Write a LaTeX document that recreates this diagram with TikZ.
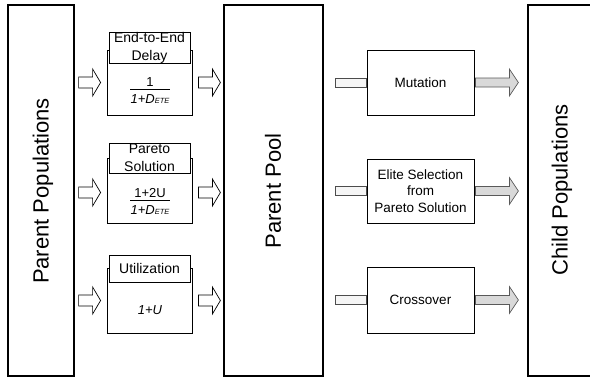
\documentclass[tikz,border=0pt]{standalone}
\usepackage{fontspec}
\setmainfont{Liberation Sans}
\usetikzlibrary{calc}
\tikzset{
 bigbox/.style={draw, line width=1.2pt, inner sep=0pt},
 bigtext/.style={font=\fontsize{22}{26}\selectfont, rotate=90, inner sep=0pt},
 fitbox/.style={draw, line width=0.8pt, minimum width=85pt, minimum height=65pt, inner sep=0pt},
 tabbox/.style={draw, line width=0.7pt, fill=white, minimum width=81pt, inner sep=0pt, align=center, font=\fontsize{14}{18}\selectfont},
 opbox/.style={draw, line width=0.8pt, minimum width=107pt, inner sep=0pt, align=center, font=\fontsize{13.5}{16.5}\selectfont},
 fractext/.style={font=\fontsize{13}{15}\selectfont, inner sep=0pt},
 fracbar/.style={line width=0.7pt},
 openarrow/.style={draw, line width=0.7pt, fill=white},
 greyarrow/.style={draw=gray!70!black, line width=0.7pt, fill=gray!30},
 stubbar/.style={draw=gray!60!black, line width=0.7pt, fill=gray!8},
}
\newcommand\blkarrow[6]{\draw[#1] #2 -- ++(0,#4) -- ++(#3-#6,0) -- ++(0,#5-#4) -- ++(#6,-#5) -- ++(-#6,-#5) -- ++(0,#5-#4) -- ++(-#3+#6,0) -- cycle;}
\newcommand\ete{\textit{1+D}{\fontsize{7.5}{8}\selectfont\textit{ETE}}}
\begin{document}
\begin{tikzpicture}[x=1pt,y=-1pt]
\useasboundingbox (0,0) rectangle (590,381);
\clip (0,0) rectangle (590,381);
% big boxes
\node[bigbox, minimum width=66pt, minimum height=371pt] (pp) at (41,190.5) {};
\node[bigtext] (pptext) at (43,191) {Parent Populations};
\node[bigbox, minimum width=99pt, minimum height=371pt] (pool) at (273.5,190.5) {};
\node[bigtext] (pooltext) at (273,191) {Parent Pool};
\node[bigbox, minimum width=72pt, minimum height=371pt] (child) at (564,190.5) {};
\node[bigtext] (childtext) at (562,190) {Child Populations};
% fitness boxes
\node[fitbox] (f1) at (149.5,82.5) {};
\node[tabbox, minimum height=29pt] (t1) at (149.5,47.5) {End-to-End\\Delay};
\node[fractext] (n1) at (150,82.5) {1};
\node[fractext] (d1) at (150,99.5) {\ete};
\draw[fracbar] ($(n1)+(-20,6.5)$) -- ($(n1)+(20,6.5)$);

\node[fitbox] (f2) at (149.5,190.5) {};
\node[tabbox, minimum height=30pt] (t2) at (149.5,158) {Pareto\\Solution};
\node[fractext] (n2) at (150,193.5) {1+2U};
\node[fractext] (d2) at (150,210.5) {\ete};
\draw[fracbar] ($(n2)+(-20,6.5)$) -- ($(n2)+(20,6.5)$);

\node[fitbox] (f3) at (149.5,300.5) {};
\node[tabbox, minimum height=27pt] (t3) at (149.5,268.5) {Utilization};
\node[fractext] (v3) at (150,310) {\textit{1+U}};
% operator boxes
\node[opbox, minimum height=65pt] (o1) at (420.5,82.5) {Mutation};
\node[opbox, minimum height=64pt] (o2) at (420.5,191) {Elite Selection\\from\\Pareto Solution};
\node[opbox, minimum height=66pt] (o3) at (420.5,300) {Crossover};
% open arrows
\blkarrow{openarrow}{($(pp.east|-f1.west)+(4,0)$)}{22}{5.5}{13.5}{8}
\blkarrow{openarrow}{($(pp.east|-f2.west)+(4,2)$)}{22}{5.5}{13.5}{8}
\blkarrow{openarrow}{($(pp.east|-f3.west)+(4,0)$)}{22}{5.5}{13.5}{8}
\blkarrow{openarrow}{($(f1.east)+(6,0)$)}{22}{5.5}{13.5}{8}
\blkarrow{openarrow}{($(f2.east)+(6,2)$)}{22}{5.5}{13.5}{8}
\blkarrow{openarrow}{($(f3.east)+(6,0)$)}{22}{5.5}{13.5}{8}
% stubs
\foreach \o in {o1,o2,o3}{
 \draw[stubbar] ($(\o.west)+(-31,-4.5)$) rectangle ($(\o.west)+(0,4.5)$);
 \blkarrow{greyarrow}{($(\o.east)+(1,0)$)}{43}{4.5}{13.5}{9}
}
\end{tikzpicture}
\end{document}
